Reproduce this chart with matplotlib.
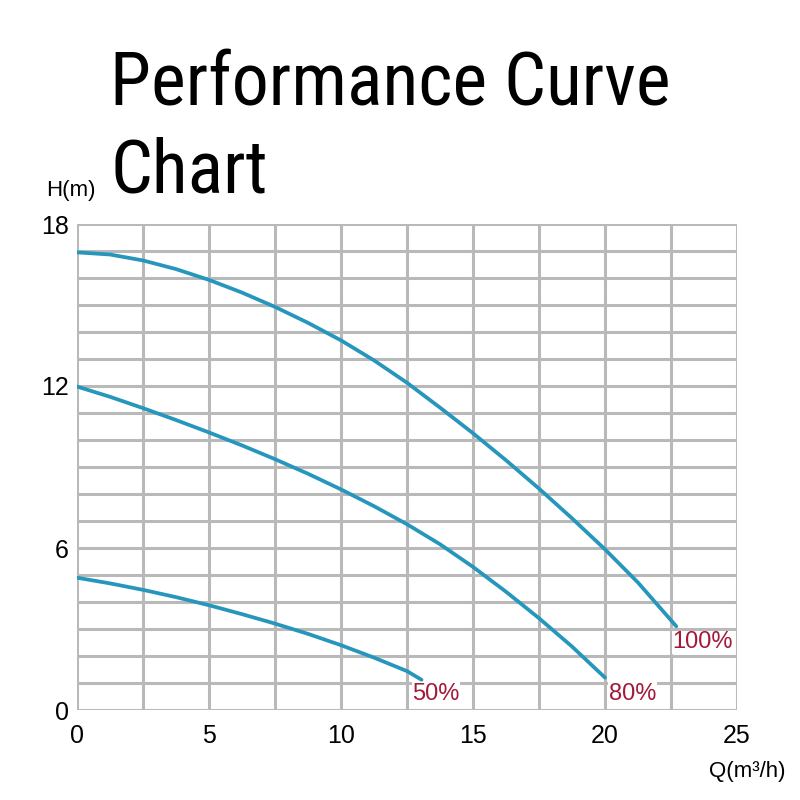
import matplotlib
matplotlib.use("Agg")
import matplotlib.pyplot as plt
from matplotlib import font_manager

# Pumpun suorituskykykäyrät (luettu kuvasta)
q_100 = [0, 1.25, 2.5, 3.75, 5, 6.25, 7.5, 8.75, 10, 11.25, 12.5,
         13.75, 15, 16.25, 17.5, 18.75, 20, 21.25, 22.7]
h_100 = [16.95, 16.87, 16.65, 16.33, 15.93, 15.46, 14.93, 14.34, 13.69, 12.95, 12.12,
         11.2, 10.25, 9.25, 8.2, 7.1, 5.95, 4.72, 3.1]

q_80 = [0, 1.25, 2.5, 3.75, 5, 6.25, 7.5, 8.75, 10, 11.25, 12.5,
        13.75, 15, 16.25, 17.5, 18.75, 20]
h_80 = [11.98, 11.6, 11.18, 10.74, 10.28, 9.8, 9.29, 8.75, 8.17, 7.55, 6.88,
        6.14, 5.3, 4.38, 3.4, 2.35, 1.2]

q_50 = [0, 1.25, 2.5, 3.75, 5, 6.25, 7.5, 8.75, 10, 11.25, 12.5, 13.05]
h_50 = [4.9, 4.69, 4.45, 4.18, 3.88, 3.55, 3.2, 2.82, 2.4, 1.94, 1.44, 1.12]

x_ticks = [0, 5, 10, 15, 20, 25]
y_ticks = [0, 6, 12, 18]
labels = ["100%", "80%", "50%"]

line_color = "#2696bd"
label_color = "#a3193a"
grid_color = "#b9b9b9"

plt.rcParams['font.family'] = ['Liberation Sans', 'DejaVu Sans']

# Otsikolle kapea fontti jos sellainen löytyy
title_family = 'Lato'
title_stretch = 'normal'
for f in font_manager.fontManager.ttflist:
    if f.name in ('Liberation Sans Narrow', 'Roboto Condensed', 'Open Sans Condensed'):
        title_family = f.name
        break
    if f.name in ('Noto Sans', 'Open Sans', 'Roboto') and f.stretch in ('condensed', 'semi-condensed'):
        title_family = f.name
        title_stretch = f.stretch
        break

fig = plt.figure(figsize=(8, 8), dpi=100)
ax = fig.add_axes([0.09625, 0.1125, 0.825, 0.6075])

# Ruudukko
for x in [i * 2.5 for i in range(11)]:
    ax.axvline(x, color=grid_color, lw=2.2, zorder=1)
for y in range(19):
    ax.axhline(y, color=grid_color, lw=2.2, zorder=1)

for q, h in [(q_100, h_100), (q_80, h_80), (q_50, h_50)]:
    ax.plot(q, h, color=line_color, lw=2.7, zorder=3,
            solid_capstyle='round', solid_joinstyle='round')

ax.text(q_100[-1] - 0.15, 2.5, labels[0], color=label_color, fontsize=17,
        ha='left', va='center', zorder=4,
        bbox=dict(facecolor='white', edgecolor='none', pad=0.5))
ax.text(q_80[-1] + 0.15, 0.6, labels[1], color=label_color, fontsize=17,
        ha='left', va='center', zorder=4,
        bbox=dict(facecolor='white', edgecolor='none', pad=0.5))
ax.text(q_50[-1] - 0.35, 0.6, labels[2], color=label_color, fontsize=17,
        ha='left', va='center', zorder=4,
        bbox=dict(facecolor='white', edgecolor='none', pad=0.5))

ax.set_xlim(0, 25)
ax.set_ylim(0, 18)
ax.set_xticks(x_ticks)
ax.set_yticks(y_ticks)
ax.tick_params(axis='x', length=0, labelsize=18, pad=10)
ax.tick_params(axis='y', length=0, labelsize=18, pad=6)
for s in ax.spines.values():
    s.set_visible(False)

fig.text(0.0575, 0.762, "H(m)", fontsize=16, ha='left', va='center')
fig.text(0.982, 0.036, "Q(m³/h)", fontsize=16, ha='right', va='center')

t1 = fig.text(0.138, 0.869, "Performance Curve", fontsize=58, ha='left',
              va='baseline', family=[title_family, 'DejaVu Sans'],
              fontstretch=title_stretch)
t2 = fig.text(0.138, 0.759, "Chart", fontsize=58, ha='left',
              va='baseline', family=[title_family, 'DejaVu Sans'],
              fontstretch=title_stretch)

# Sovitetaan otsikon leveys (~560 px)
fig.canvas.draw()
w = t1.get_window_extent().width
size = 58 * 560 / w
t1.set_fontsize(size)
t2.set_fontsize(size)

fig.savefig("out.png", dpi=100, facecolor='white')
